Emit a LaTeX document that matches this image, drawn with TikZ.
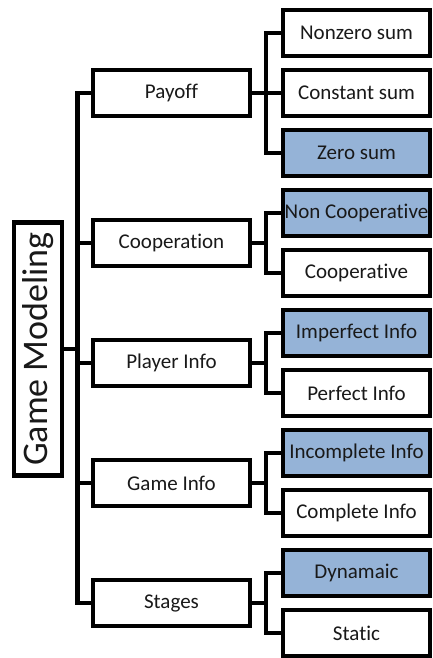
\documentclass[tikz,border=0pt]{standalone}
\usepackage{fontspec}
\setmainfont[Ligatures=NoCommon]{Carlito}
\definecolor{leafblue}{RGB}{149,179,215}
\definecolor{inkgray}{RGB}{25,25,25}
\begin{document}
\begin{tikzpicture}[x=1pt,y=-1pt,
  box/.style={draw=black, line width=4.5pt, fill=white, inner sep=0pt,
    font=\fontsize{21}{24}\selectfont, text=inkgray},
  rootbox/.style={box, minimum width=253pt, minimum height=48pt, rotate=90,
    font=\fontsize{36}{40}\selectfont},
  midbox/.style={box, minimum width=157pt, minimum height=46pt},
  leafbox/.style={box, minimum width=147pt, minimum height=46pt},
  chosen/.style={fill=leafblue},
  conn/.style={draw=black, line width=4.5pt}]
\useasboundingbox (0,0) rectangle (432,658);

% root
\node[rootbox] (root) at (38,349) {Game Modeling};

% first level
\node[midbox] (pay)  at (171.5,93)  {Payoff};
\node[midbox] (coop) at (171.5,243) {Cooperation};
\node[midbox] (pinf) at (171.5,363) {Player Info};
\node[midbox] (ginf) at (171.5,483) {Game Info};
\node[midbox] (stg)  at (171.5,603) {Stages};

% second level
\node[leafbox]         (nzs) at (356.5,33)  {Nonzero sum};
\node[leafbox]         (cst) at (356.5,93)  {Constant sum};
\node[leafbox, chosen] (zs)  at (356.5,153) {Zero sum};
\node[leafbox, chosen] (ncp) at (356.5,213) {Non Cooperative};
\node[leafbox]         (cp)  at (356.5,273) {Cooperative};
\node[leafbox, chosen] (imp) at (356.5,333) {Imperfect Info};
\node[leafbox]         (prf) at (356.5,393) {Perfect Info};
\node[leafbox, chosen] (inc) at (356.5,453) {Incomplete Info};
\node[leafbox]         (cmp) at (356.5,513) {Complete Info};
\node[leafbox, chosen] (dyn) at (356.5,573) {Dynamaic};
\node[leafbox]         (sta) at (356.5,633) {Static};

% bracket columns
\coordinate (sp) at (77.5,0);
\coordinate (bx) at (266,0);

% root to first level
\draw[conn] (root.south) -- (root.south -| sp);
\draw[conn] (pay.west) -- (pay.west -| sp) |- (stg.west);
\foreach \n in {coop,pinf,ginf}
  \draw[conn] (\n.west) -- (\n.west -| sp);

% first level to second level
\draw[conn] (pay.east) -- (pay.east -| bx);
\draw[conn] (nzs.west) -- (nzs.west -| bx) |- (zs.west);
\draw[conn] (cst.west) -- (cst.west -| bx);

\draw[conn] (coop.east) -- (coop.east -| bx);
\draw[conn] (ncp.west) -- (ncp.west -| bx) |- (cp.west);

\draw[conn] (pinf.east) -- (pinf.east -| bx);
\draw[conn] (imp.west) -- (imp.west -| bx) |- (prf.west);

\draw[conn] (ginf.east) -- (ginf.east -| bx);
\draw[conn] (inc.west) -- (inc.west -| bx) |- (cmp.west);

\draw[conn] (stg.east) -- (stg.east -| bx);
\draw[conn] (dyn.west) -- (dyn.west -| bx) |- (sta.west);
\end{tikzpicture}
\end{document}
